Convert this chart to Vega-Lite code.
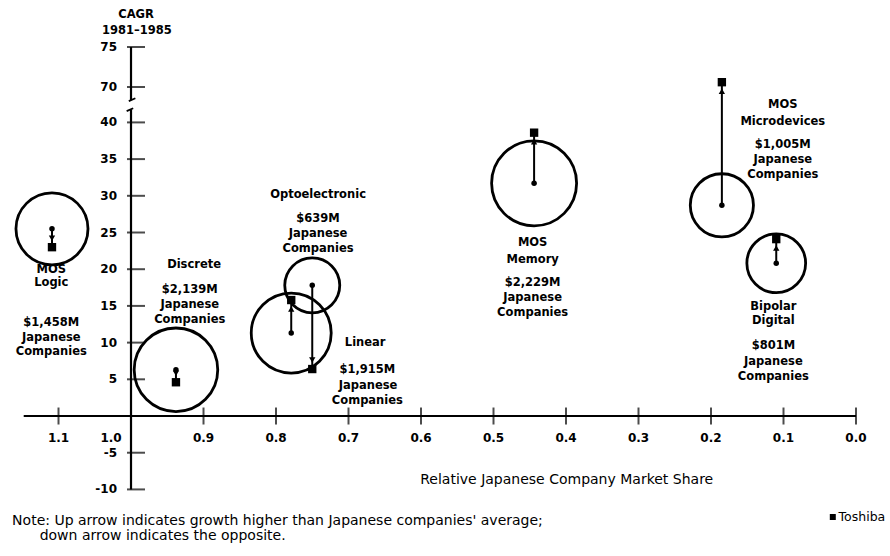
{
  "$schema": "https://vega.github.io/schema/vega-lite/v6.json",
  "width": 890,
  "height": 556,
  "autosize": "none",
  "padding": 0,
  "background": "white",
  "config": {"view": {"stroke": null}, "font": "DejaVu Sans"},
  "data": {"values": [{"anchor": 1}]},
  "datasets": {
    "segments": [
      {"segment": "MOS Logic", "share": 1.109, "avg": 25.5, "toshiba": 23.0, "sales": 1458, "dir": "down"},
      {"segment": "Discrete", "share": 0.938, "avg": 6.3, "toshiba": 4.6, "sales": 2139, "dir": "down"},
      {"segment": "Optoelectronic", "share": 0.750, "avg": 17.8, "toshiba": 6.4, "sales": 639, "dir": "down"},
      {"segment": "Linear", "share": 0.779, "avg": 11.3, "toshiba": 15.8, "sales": 1915, "dir": "up"},
      {"segment": "MOS Memory", "share": 0.444, "avg": 31.7, "toshiba": 38.6, "sales": 2229, "dir": "up"},
      {"segment": "MOS Microdevices", "share": 0.185, "avg": 28.7, "toshiba": 70.6, "sales": 1005, "dir": "up"},
      {"segment": "Bipolar Digital", "share": 0.110, "avg": 20.8, "toshiba": 24.1, "sales": 801, "dir": "up"}
    ],
    "labels": [
      {"text": "MOS", "x": 1.110, "y": 19.9},
      {"text": "Logic", "x": 1.110, "y": 18.1},
      {"text": "$1,458M", "x": 1.110, "y": 12.7},
      {"text": "Japanese", "x": 1.110, "y": 10.6},
      {"text": "Companies", "x": 1.110, "y": 8.7},
      {"text": "Discrete", "x": 0.913, "y": 20.6},
      {"text": "$2,139M", "x": 0.919, "y": 17.2},
      {"text": "Japanese", "x": 0.919, "y": 15.1},
      {"text": "Companies", "x": 0.919, "y": 13.1},
      {"text": "Optoelectronic", "x": 0.742, "y": 30.1},
      {"text": "$639M", "x": 0.742, "y": 26.8},
      {"text": "Japanese", "x": 0.742, "y": 24.8},
      {"text": "Companies", "x": 0.742, "y": 22.75},
      {"text": "Linear", "x": 0.677, "y": 9.95},
      {"text": "$1,915M", "x": 0.674, "y": 6.27},
      {"text": "Japanese", "x": 0.673, "y": 4.09},
      {"text": "Companies", "x": 0.674, "y": 2.04},
      {"text": "MOS", "x": 0.446, "y": 23.57},
      {"text": "Memory", "x": 0.446, "y": 21.25},
      {"text": "$2,229M", "x": 0.446, "y": 18.12},
      {"text": "Japanese", "x": 0.446, "y": 16.08},
      {"text": "Companies", "x": 0.446, "y": 14.03},
      {"text": "MOS", "x": 0.101, "y": 54.75},
      {"text": "Microdevices", "x": 0.101, "y": 40.34},
      {"text": "$1,005M", "x": 0.101, "y": 36.92},
      {"text": "Japanese", "x": 0.101, "y": 34.88},
      {"text": "Companies", "x": 0.101, "y": 32.83},
      {"text": "Bipolar", "x": 0.114, "y": 14.85},
      {"text": "Digital", "x": 0.114, "y": 12.94},
      {"text": "$801M", "x": 0.114, "y": 9.54},
      {"text": "Japanese", "x": 0.114, "y": 7.36},
      {"text": "Companies", "x": 0.114, "y": 5.31},
      {"text": "CAGR", "x": 0.993, "y": 79.0},
      {"text": "1981–1985", "x": 0.992, "y": 77.0}
    ],
    "xticks": [
      {"v": 1.1, "label": "1.1"},
      {"v": 1.0, "label": "1.0"},
      {"v": 0.9, "label": "0.9"},
      {"v": 0.8, "label": "0.8"},
      {"v": 0.7, "label": "0.7"},
      {"v": 0.6, "label": "0.6"},
      {"v": 0.5, "label": "0.5"},
      {"v": 0.4, "label": "0.4"},
      {"v": 0.3, "label": "0.3"},
      {"v": 0.2, "label": "0.2"},
      {"v": 0.1, "label": "0.1"},
      {"v": 0.0, "label": "0.0"}
    ],
    "yticks": [
      {"v": -10, "label": "-10"},
      {"v": -5, "label": "-5"},
      {"v": 5, "label": "5"},
      {"v": 10, "label": "10"},
      {"v": 15, "label": "15"},
      {"v": 20, "label": "20"},
      {"v": 25, "label": "25"},
      {"v": 30, "label": "30"},
      {"v": 35, "label": "35"},
      {"v": 40, "label": "40"},
      {"v": 70, "label": "70"},
      {"v": 75, "label": "75"}
    ],
    "notes": [
      {"text": "Note: Up arrow indicates growth higher than Japanese companies' average;", "x": 1.164, "y": -14.35},
      {"text": "down arrow indicates the opposite.", "x": 1.126, "y": -16.35}
    ]
  },
  "layer": [
    {
      "mark": {"type": "rule", "color": "black", "strokeWidth": 2.2},
      "encoding": {
        "x": {"datum": 1.0, "type": "quantitative", "axis": null,
              "scale": {"domain": [-0.0469, 1.1807], "reverse": true, "nice": false, "zero": false}},
        "y": {"datum": -10, "type": "quantitative", "axis": null,
              "scale": {"domain": [-19.07, 40, 70, 80.875], "range": [556, 122.4, 87, 0], "nice": false, "zero": false}},
        "y2": {"datum": 51}
      }
    },
    {
      "mark": {"type": "rule", "color": "black", "strokeWidth": 2.2},
      "encoding": {
        "x": {"datum": 1.0, "type": "quantitative"},
        "y": {"datum": 59, "type": "quantitative"},
        "y2": {"datum": 75}
      }
    },
    {
      "mark": {"type": "rule", "color": "black", "strokeWidth": 1.8},
      "encoding": {
        "x": {"datum": 1.006, "type": "quantitative"},
        "x2": {"datum": 0.997},
        "y": {"datum": 49.5, "type": "quantitative"},
        "y2": {"datum": 52}
      }
    },
    {
      "mark": {"type": "rule", "color": "black", "strokeWidth": 1.8},
      "encoding": {
        "x": {"datum": 1.003, "type": "quantitative"},
        "x2": {"datum": 0.994},
        "y": {"datum": 58, "type": "quantitative"},
        "y2": {"datum": 60.5}
      }
    },
    {
      "mark": {"type": "rule", "color": "black", "strokeWidth": 2.2},
      "encoding": {
        "x": {"datum": 1.148, "type": "quantitative"},
        "x2": {"datum": 0.0},
        "y": {"datum": 0, "type": "quantitative"}
      }
    },
    {
      "data": {"name": "xticks"},
      "mark": {"type": "tick", "orient": "vertical", "color": "black", "size": 17, "thickness": 2},
      "encoding": {
        "x": {"field": "v", "type": "quantitative"},
        "y": {"datum": 0, "type": "quantitative"}
      }
    },
    {
      "data": {"name": "xticks"},
      "transform": [{"filter": "datum.v !== 1.0"}],
      "mark": {"type": "text", "dy": 22, "fontSize": 12, "fontWeight": "bold", "color": "black", "align": "center", "baseline": "middle"},
      "encoding": {
        "x": {"field": "v", "type": "quantitative"},
        "y": {"datum": 0, "type": "quantitative"},
        "text": {"field": "label", "type": "nominal"}
      }
    },
    {
      "data": {"name": "xticks"},
      "transform": [{"filter": "datum.v === 1.0"}],
      "mark": {"type": "text", "dy": 22, "dx": -20, "fontSize": 12, "fontWeight": "bold", "color": "black", "align": "center", "baseline": "middle"},
      "encoding": {
        "x": {"field": "v", "type": "quantitative"},
        "y": {"datum": 0, "type": "quantitative"},
        "text": {"field": "label", "type": "nominal"}
      }
    },
    {
      "data": {"name": "yticks"},
      "mark": {"type": "tick", "orient": "horizontal", "color": "black", "size": 18, "thickness": 2, "xOffset": 5},
      "encoding": {
        "x": {"datum": 1.0, "type": "quantitative"},
        "y": {"field": "v", "type": "quantitative"}
      }
    },
    {
      "data": {"name": "yticks"},
      "mark": {"type": "text", "dx": -14, "fontSize": 12, "fontWeight": "bold", "color": "black", "align": "right", "baseline": "middle"},
      "encoding": {
        "x": {"datum": 1.0, "type": "quantitative"},
        "y": {"field": "v", "type": "quantitative"},
        "text": {"field": "label", "type": "nominal"}
      }
    },
    {
      "data": {"name": "segments"},
      "mark": {"type": "point", "shape": "circle", "filled": false, "stroke": "black", "strokeWidth": 2.8, "opacity": 1},
      "encoding": {
        "x": {"field": "share", "type": "quantitative"},
        "y": {"field": "avg", "type": "quantitative"},
        "size": {"field": "sales", "type": "quantitative", "legend": null,
                 "scale": {"type": "linear", "domain": [639, 2229], "range": [3025, 7225], "zero": false}}
      }
    },
    {
      "data": {"name": "segments"},
      "mark": {"type": "rule", "color": "black", "strokeWidth": 2},
      "encoding": {
        "x": {"field": "share", "type": "quantitative"},
        "y": {"field": "avg", "type": "quantitative"},
        "y2": {"field": "toshiba"}
      }
    },
    {
      "data": {"name": "segments"},
      "mark": {"type": "point", "shape": "circle", "filled": true, "color": "black", "size": 30, "opacity": 1},
      "encoding": {
        "x": {"field": "share", "type": "quantitative"},
        "y": {"field": "avg", "type": "quantitative"}
      }
    },
    {
      "data": {"name": "segments"},
      "transform": [{"filter": "datum.dir === 'up'"}],
      "mark": {"type": "point", "shape": "triangle-up", "filled": true, "color": "black", "size": 40, "opacity": 1, "yOffset": 9},
      "encoding": {
        "x": {"field": "share", "type": "quantitative"},
        "y": {"field": "toshiba", "type": "quantitative"}
      }
    },
    {
      "data": {"name": "segments"},
      "transform": [{"filter": "datum.dir === 'down'"}],
      "mark": {"type": "point", "shape": "triangle-down", "filled": true, "color": "black", "size": 40, "opacity": 1, "yOffset": -9},
      "encoding": {
        "x": {"field": "share", "type": "quantitative"},
        "y": {"field": "toshiba", "type": "quantitative"}
      }
    },
    {
      "data": {"name": "segments"},
      "mark": {"type": "point", "shape": "square", "filled": true, "color": "black", "size": 70, "opacity": 1},
      "encoding": {
        "x": {"field": "share", "type": "quantitative"},
        "y": {"field": "toshiba", "type": "quantitative"}
      }
    },
    {
      "data": {"name": "labels"},
      "mark": {"type": "text", "fontSize": 11.5, "fontWeight": "bold", "color": "black", "align": "center", "baseline": "middle"},
      "encoding": {
        "x": {"field": "x", "type": "quantitative"},
        "y": {"field": "y", "type": "quantitative"},
        "text": {"field": "text", "type": "nominal"}
      }
    },
    {
      "mark": {"type": "text", "text": "Relative Japanese Company Market Share", "fontSize": 14, "color": "black", "align": "center", "baseline": "middle"},
      "encoding": {
        "x": {"datum": 0.399, "type": "quantitative"},
        "y": {"datum": -8.7, "type": "quantitative"}
      }
    },
    {
      "data": {"name": "notes"},
      "mark": {"type": "text", "fontSize": 14, "color": "black", "align": "left", "baseline": "middle"},
      "encoding": {
        "x": {"field": "x", "type": "quantitative"},
        "y": {"field": "y", "type": "quantitative"},
        "text": {"field": "text", "type": "nominal"}
      }
    },
    {
      "mark": {"type": "point", "shape": "square", "filled": true, "color": "black", "size": 36, "opacity": 1},
      "encoding": {
        "x": {"datum": 0.032, "type": "quantitative"},
        "y": {"datum": -13.76, "type": "quantitative"}
      }
    },
    {
      "mark": {"type": "text", "text": "Toshiba", "fontSize": 12.5, "color": "black", "align": "left", "baseline": "middle"},
      "encoding": {
        "x": {"datum": 0.024, "type": "quantitative"},
        "y": {"datum": -13.76, "type": "quantitative"}
      }
    }
  ]
}
